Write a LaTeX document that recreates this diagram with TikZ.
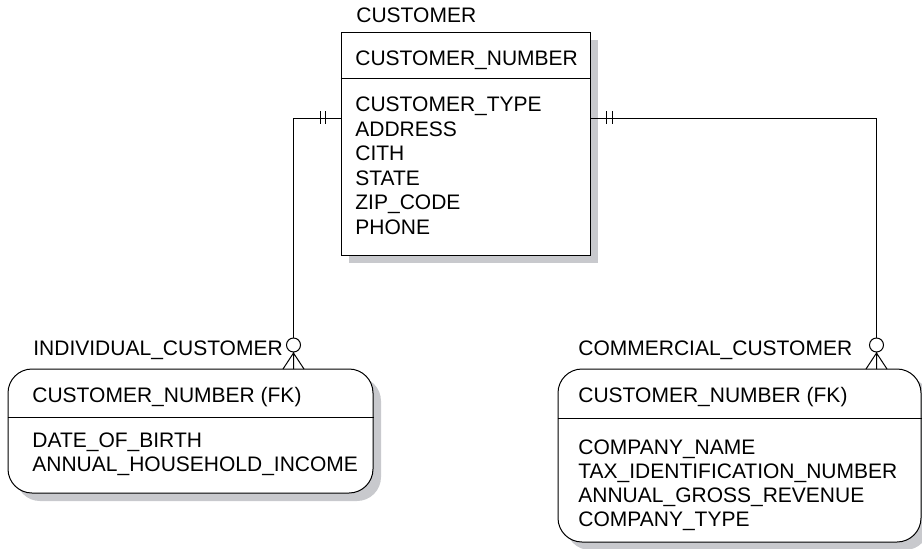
\documentclass[tikz,border=0pt]{standalone}
\usepackage{fontspec}
\setmainfont{Liberation Sans}
\usetikzlibrary{positioning, fit, shadows, calc}
\definecolor{shadowgray}{RGB}{200, 201, 205}

\begin{document}
\begin{tikzpicture}[
    x=0.5pt, y=-0.5pt,
    entity/.style={rectangle, draw=black, fill=white, line width=0.5pt, inner sep=0pt,
        drop shadow={shadow xshift=4pt, shadow yshift=-4pt, fill=shadowgray, opacity=1}},
    weak/.style={entity, rounded corners=12pt},
    label/.style={font=\fontsize{10.5}{12.3}\selectfont, inner sep=0pt, anchor=base west},
    attr/.style={label, align=left},
    attrw/.style={attr, font=\fontsize{10.5}{12}\selectfont},
    rel/.style={line width=0.5pt}
]
\useasboundingbox (0,0) rectangle (922,548);

% CUSTOMER entity (base anchor = last line)
\node[label] (custname) at (356,22) {CUSTOMER};
\node[entity, fit={(341,32) (590,255)}] (cust) {};
\draw[rel] (cust.west |- 0,78) -- (cust.east |- 0,78);
\node[label] (custpk) at (355,65.5) {CUSTOMER\_NUMBER};
\node[attr] (custattr) at (355,234.5) {CUSTOMER\_TYPE\\ADDRESS\\CITH\\STATE\\ZIP\_CODE\\PHONE};

% INDIVIDUAL_CUSTOMER entity
\node[label] (indname) at (33,355) {INDIVIDUAL\_CUSTOMER};
\node[weak, fit={(8,369) (373,493)}] (ind) {};
\draw[rel] (ind.west |- 0,417) -- (ind.east |- 0,417);
\node[label] (indpk) at (32,402.5) {CUSTOMER\_NUMBER (FK)};
\node[attrw] (indattr) at (32,471.5) {DATE\_OF\_BIRTH\\ANNUAL\_HOUSEHOLD\_INCOME};

% COMMERCIAL_CUSTOMER entity
\node[label] (comname) at (578,355) {COMMERCIAL\_CUSTOMER};
\node[weak, fit={(558,369) (921,542)}] (com) {};
\draw[rel] (com.west |- 0,418) -- (com.east |- 0,418);
\node[label] (compk) at (578,402.5) {CUSTOMER\_NUMBER (FK)};
\node[attrw] (comattr) at (578,526.5) {COMPANY\_NAME\\TAX\_IDENTIFICATION\_NUMBER\\ANNUAL\_GROSS\_REVENUE\\COMPANY\_TYPE};

% Relationship ends
\coordinate (indo) at (293.5,345);
\coordinate (como) at (876.5,345);
\coordinate (indfoot) at (293.5,369);
\coordinate (comfoot) at (876.5,369);

% Relationships
\draw[rel] (cust.west |- 0,118) -| ($(indo)+(0,-7)$);
\draw[rel] (cust.east |- 0,118) -| ($(como)+(0,-7)$);

% One and only one
\draw[rel] (320.5,111) -- (320.5,124) (325.5,111) -- (325.5,124);
\draw[rel] (606,111) -- (606,124) (612,111) -- (612,124);

% Zero or many
\foreach \o/\f in {indo/indfoot, como/comfoot} {
    \draw[rel] (\o) circle[radius=3.5pt];
    \draw[rel] ($(\o)+(0,7)$) -- (\f)
        ($(\o)+(0,8)$) -- ($(\f)+(-10.5,0)$)
        ($(\o)+(0,8)$) -- ($(\f)+(10.5,0)$);
}
\end{tikzpicture}
\end{document}
